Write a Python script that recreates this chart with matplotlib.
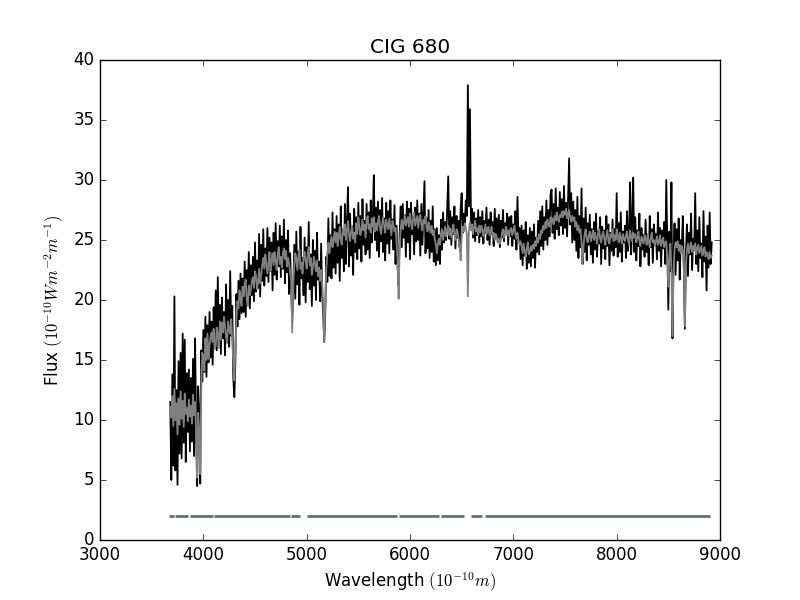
import numpy as np
import matplotlib
matplotlib.use("Agg")
import matplotlib.pyplot as plt

plt.style.use('classic')

title = "CIG 680"
wave_start = 3680
wave_step = 10

flux_obs = [
    11.5, 5.0, 13.8, 6.2, 20.3, 5.8, 12.5, 4.6, 14.9, 7.2,
    15.6, 6.8, 17.2, 8.1, 16.7, 6.5, 13.9, 9.0, 14.2, 7.4,
    13.5, 8.2, 15.1, 7.0, 16.8, 9.5, 4.5, 12.8, 10.5, 4.7,
    15.8, 13.2, 17.5, 14.0, 18.6, 13.6, 17.9, 14.8, 19.0, 15.2,
    18.2, 14.6, 19.4, 16.0, 20.8, 15.8, 21.9, 16.4, 19.6, 15.5,
    20.2, 16.8, 19.0, 15.4, 21.3, 17.2, 20.0, 16.1, 22.4, 17.0,
    19.5, 13.5, 11.9, 14.8, 20.5, 17.8, 21.6, 18.4, 22.2, 18.9,
    21.8, 19.0, 23.2, 18.6, 22.5, 19.8, 24.0, 19.3, 22.9, 20.4,
    23.6, 19.9, 24.8, 20.7, 23.3, 21.0, 25.5, 20.3, 24.6, 21.6,
    25.9, 21.2, 24.3, 22.0, 26.0, 21.5, 25.2, 22.4, 24.8, 20.8,
    25.6, 22.1, 26.4, 21.7, 24.9, 22.8, 26.2, 21.9, 25.3, 22.6,
    26.7, 21.4, 25.0, 22.3, 25.8, 20.5, 23.9, 21.0, 18.2, 20.6,
    24.6, 20.1, 25.7, 21.3, 24.0, 19.6, 26.1, 21.8, 23.5, 20.4,
    25.2, 19.8, 24.4, 21.5, 26.5, 20.9, 23.8, 19.5, 25.0, 21.2,
    24.1, 20.0, 25.6, 21.7, 23.2, 19.9, 24.7, 20.5, 18.8, 16.5,
    18.9, 23.6, 21.5, 26.8, 22.0, 25.4, 21.8, 27.3, 22.7, 25.9,
    22.2, 27.0, 23.1, 26.3, 21.6, 27.8, 23.5, 25.7, 22.4, 28.0,
    23.0, 26.5, 29.4, 22.8, 27.2, 23.7, 26.0, 22.1, 27.6, 24.0,
    26.9, 23.4, 28.1, 24.3, 27.0, 23.2, 28.4, 24.6, 26.6, 23.8,
    28.0, 24.2, 27.3, 23.5, 28.3, 24.8, 26.9, 30.4, 25.0, 27.7,
    24.1, 28.2, 23.6, 27.5, 24.9, 28.5, 24.0, 26.8, 23.3, 28.1,
    24.7, 27.4, 23.9, 28.3, 25.1, 26.7, 24.2, 27.9, 23.0, 26.2,
    22.8, 21.2, 25.6, 27.8, 24.4, 28.0, 25.2, 27.1, 23.6, 28.2,
    24.8, 27.6, 23.4, 28.1, 25.5, 26.9, 23.8, 27.7, 24.9, 28.3,
    25.0, 27.2, 23.7, 28.0, 24.6, 27.4, 29.9, 23.9, 26.8, 24.3,
    27.5, 23.5, 26.6, 24.0, 27.8, 23.2, 25.9, 22.9, 26.0, 23.3,
    25.4, 23.0, 26.7, 24.2, 27.3, 24.8, 26.5, 25.0, 27.6, 30.3,
    25.1, 27.4, 24.6, 26.9, 25.5, 27.8, 24.3, 27.0, 25.2, 26.6,
    24.4, 27.5, 28.9, 25.6, 27.2, 26.0, 28.3, 27.0, 37.9, 27.8,
    35.9, 26.4, 27.6, 25.2, 27.3, 24.9, 26.8, 25.4, 27.5, 24.8,
    26.9, 25.3, 27.4, 24.7, 26.6, 25.6, 27.7, 25.0, 26.7, 24.6,
    27.3, 25.5, 26.5, 24.5, 27.6, 25.1, 26.8, 24.8, 27.1, 24.4,
    26.6, 25.2, 27.5, 24.9, 26.4, 25.7, 27.2, 24.6, 26.9, 25.3,
    27.0, 24.5, 26.3, 25.1, 27.4, 24.2, 28.6, 25.0, 26.0, 23.4,
    26.2, 22.9, 25.8, 23.7, 26.5, 22.6, 25.4, 23.1, 26.0, 22.8,
    25.7, 23.5, 26.3, 22.7, 25.2, 24.0, 26.6, 23.8, 27.4, 24.5,
    27.8, 24.2, 26.9, 25.0, 28.3, 24.6, 27.5, 25.3, 28.8, 29.2,
    25.6, 28.0, 25.1, 29.3, 25.9, 27.7, 25.4, 29.0, 26.2, 28.4,
    25.5, 29.5, 26.0, 28.1, 25.3, 28.7, 31.8, 26.3, 28.9, 24.8,
    28.2, 25.0, 27.5, 24.1, 28.6, 23.5, 27.0, 24.4, 29.3, 23.0,
    26.8, 24.0, 27.7, 23.3, 26.4, 24.6, 27.1, 23.8, 25.9, 23.1,
    26.5, 24.2, 27.2, 23.6, 25.7, 24.7, 26.9, 23.0, 26.1, 24.3,
    25.8, 23.4, 27.0, 24.5, 26.3, 22.9, 25.6, 24.1, 26.7, 23.7,
    25.9, 24.4, 28.9, 23.6, 26.4, 24.0, 27.3, 23.2, 25.7, 24.8,
    26.2, 23.5, 27.4, 24.1, 25.5, 29.8, 23.8, 26.6, 30.2, 24.0,
    26.9, 23.3, 25.8, 24.5, 27.2, 22.8, 26.0, 24.2, 25.4, 23.6,
    26.7, 24.0, 25.2, 22.9, 27.0, 24.4, 25.9, 23.1, 26.3, 24.7,
    25.5, 23.4, 27.3, 24.1, 26.0, 22.8, 25.8, 24.3, 26.5, 23.0,
    30.0, 24.5, 19.2, 25.7, 22.4, 29.8, 16.8, 23.6, 26.4, 22.1,
    25.9, 23.3, 26.8, 21.7, 25.0, 24.1, 27.0, 22.6, 17.6, 23.9,
    26.3, 22.0, 25.6, 23.8, 27.2, 22.5, 25.1, 24.2, 28.9, 23.0,
    25.8, 22.4, 26.9, 23.5, 24.7, 21.9, 27.4, 23.2, 25.3, 20.8,
    26.2, 22.7, 27.3, 23.0, 24.8,
]

flux_model = [
    11.1, 10.2, 12.0, 9.5, 12.6, 10.0, 11.4, 8.8, 11.8, 9.6,
    12.4, 10.1, 11.6, 9.4, 12.2, 10.5, 11.0, 9.9, 11.7, 10.3,
    11.2, 9.7, 12.1, 10.4, 11.5, 8.9, 5.2, 10.6, 9.0, 5.5,
    12.5, 15.6, 15.2, 14.1, 16.8, 15.0, 17.2, 15.1, 16.3, 16.9,
    17.3, 16.5, 17.6, 15.9, 16.2, 17.7, 17.1, 16.0, 18.2, 16.7,
    18.1, 17.3, 18.6, 17.8, 16.9, 16.4, 18.2, 17.6, 17.2, 18.4,
    16.5, 15.0, 13.3, 15.8, 18.4, 19.9, 19.3, 20.8, 20.1, 19.5,
    21.1, 20.3, 21.4, 21.7, 20.0, 19.5, 21.2, 20.4, 20.9, 21.6,
    21.9, 21.0, 22.4, 22.0, 20.9, 21.5, 22.6, 21.4, 22.1, 22.9,
    23.5, 22.6, 23.8, 23.1, 22.2, 22.9, 24.0, 22.4, 23.3, 23.9,
    22.9, 24.0, 23.3, 22.5, 23.8, 24.4, 23.0, 23.6, 22.7, 23.9,
    24.3, 23.4, 24.1, 22.8, 23.5, 23.0, 22.3, 21.6, 17.3, 21.2,
    22.8, 23.9, 23.4, 22.5, 23.7, 24.2, 22.6, 23.1, 22.2, 23.6,
    24.0, 23.2, 22.6, 23.8, 24.4, 22.9, 23.5, 22.1, 22.7, 23.6,
    23.0, 22.4, 23.3, 22.0, 22.7, 21.6, 22.5, 21.4, 19.8, 16.5,
    19.5, 22.6, 23.9, 24.8, 23.9, 24.6, 25.3, 24.4, 25.0, 25.7,
    24.8, 25.6, 24.5, 25.2, 26.1, 25.0, 24.6, 25.9, 25.4, 26.3,
    25.0, 25.8, 26.6, 25.4, 24.9, 25.7, 26.2, 25.1, 25.6, 24.8,
    26.4, 25.5, 26.9, 26.1, 25.4, 25.9, 26.7, 25.8, 26.3, 25.2,
    26.6, 27.0, 25.9, 26.3, 25.6, 26.8, 26.1, 26.9, 25.7, 26.4,
    25.8, 26.5, 27.0, 26.0, 25.5, 26.3, 26.9, 26.2, 25.6, 26.7,
    26.3, 25.9, 26.8, 26.1, 25.4, 26.6, 26.2, 25.7, 26.0, 24.8,
    23.4, 20.1, 24.6, 26.0, 26.7, 25.9, 26.4, 27.1, 26.2, 26.6,
    26.9, 26.1, 27.2, 26.5, 25.9, 26.8, 27.3, 26.2, 26.6, 27.0,
    26.0, 26.8, 27.1, 26.3, 25.8, 26.7, 26.4, 27.0, 26.1, 25.7,
    26.5, 26.0, 25.6, 26.2, 25.4, 25.8, 25.1, 24.6, 23.9, 24.7,
    25.1, 24.6, 25.5, 25.9, 25.0, 25.6, 26.1, 25.3, 25.8, 26.2,
    25.4, 26.0, 25.2, 25.8, 26.3, 25.5, 25.0, 25.9, 25.7, 25.1,
    24.5, 23.3, 25.2, 26.1, 25.7, 26.4, 26.0, 25.5, 20.3, 25.8,
    26.5, 25.8, 26.3, 25.5, 26.1, 26.6, 25.7, 26.0, 25.4, 26.2,
    25.6, 26.2, 25.9, 25.3, 25.8, 26.3, 25.5, 25.9, 26.1, 25.4,
    25.7, 26.1, 25.3, 25.6, 25.0, 25.5, 25.2, 24.8, 25.1, 24.7,
    25.0, 25.6, 25.9, 25.2, 25.7, 26.1, 25.4, 25.8, 25.3, 25.9,
    26.0, 25.4, 25.8, 26.2, 25.5, 25.1, 25.6, 24.9, 24.6, 24.9,
    24.5, 23.9, 24.7, 24.1, 23.6, 24.3, 24.8, 23.8, 24.0, 24.5,
    24.1, 24.6, 24.3, 24.9, 24.5, 25.2, 24.8, 25.5, 25.1, 25.8,
    25.6, 26.2, 25.9, 26.5, 26.0, 26.7, 26.3, 26.1, 26.9, 26.5,
    26.8, 26.3, 27.0, 26.6, 27.3, 26.8, 26.5, 27.1, 26.9, 27.4,
    26.9, 27.4, 27.1, 27.6, 26.8, 27.2, 27.5, 26.9, 26.5, 27.0,
    26.6, 26.9, 26.1, 26.5, 25.8, 26.2, 25.6, 25.9, 24.8, 23.0,
    24.6, 25.5, 25.9, 25.1, 24.8, 25.4, 25.7, 24.9, 25.3, 25.8,
    25.0, 25.6, 25.2, 24.7, 25.5, 25.9, 25.1, 24.8, 25.4, 25.7,
    25.1, 24.6, 25.3, 25.8, 25.0, 24.7, 25.5, 25.2, 25.9, 24.9,
    25.4, 25.0, 25.9, 25.3, 24.8, 25.6, 25.2, 24.7, 25.5, 25.1,
    24.9, 25.4, 25.7, 25.0, 24.6, 25.8, 25.3, 24.9, 25.6, 25.2,
    25.5, 24.8, 25.2, 25.7, 24.9, 24.5, 25.3, 25.0, 24.7, 25.4,
    25.1, 24.6, 25.5, 24.9, 24.4, 25.2, 25.6, 24.8, 25.0, 24.5,
    24.9, 25.3, 24.6, 24.8, 25.4, 24.5, 24.9, 25.2, 24.4, 24.7,
    24.9, 23.4, 21.1, 23.8, 24.7, 22.5, 17.0, 22.1, 24.2, 24.8,
    24.4, 24.9, 24.1, 24.6, 23.9, 24.5, 24.2, 22.8, 17.8, 22.9,
    24.2, 24.7, 23.9, 24.4, 24.8, 24.0, 24.5, 24.1, 24.7, 23.8,
    24.3, 24.6, 23.9, 24.2, 24.5, 23.7, 24.1, 24.4, 23.6, 24.0,
    23.8, 23.4, 24.0, 23.5, 23.7,
]

# good-pixel mask segments (start, end) in Angstrom, plotted at flux = 2
mask_segments = [(3670, 3715), (3730, 3855), (3870, 4090), (4105, 4840),
                 (4845, 4940), (5005, 5870), (5895, 6280), (6300, 6525),
                 (6595, 6695), (6725, 8905)]
mask_level = 2

wave = wave_start + wave_step * np.arange(len(flux_obs))

fig = plt.figure(figsize=(8, 6), dpi=100)
ax = fig.add_subplot(111)
ax.plot(wave, flux_obs, color='black', lw=1.3)
ax.plot(wave, flux_model, color='#808080', lw=1.3)
for s, e in mask_segments:
    ax.plot([s, e], [mask_level, mask_level], color='#627078', lw=2.0,
            solid_capstyle='butt')

ax.set_xlim(3000, 9000)
ax.set_ylim(0, 40)
ax.set_title(title)
ax.set_xlabel(r'Wavelength $(10^{-10} m)$')
ax.set_ylabel(r'Flux $(10^{-10} W m^{-2} m^{-1})$')

fig.savefig('out.png', dpi=100)
